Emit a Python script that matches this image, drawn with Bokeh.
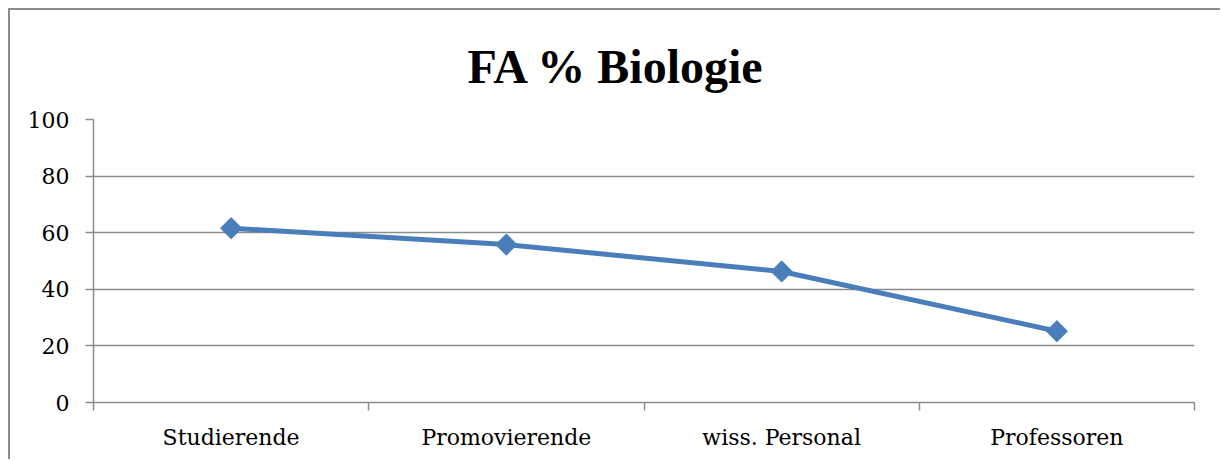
from bokeh.plotting import figure
from bokeh.models import Range1d, FixedTicker, ColumnDataSource
from bokeh.embed import file_html
from bokeh.resources import INLINE

categories = ["Studierende", "Promovierende", "wiss. Personal", "Professoren"]
values = [61.6, 55.8, 46.3, 25.2]
y_ticks = [0, 20, 40, 60, 80, 100]
title_text = "FA % Biologie"

FONT = "DejaVu Serif"
TITLE_FONT = "Liberation Serif"
GRAY = "#8c8c8c"
BLUE = "#4a7ebb"

n = len(categories)
centers = [i + 0.5 for i in range(n)]
src = ColumnDataSource(dict(x=centers, val=values, cat=categories))

p = figure(width=1212, height=451, output_backend="svg", toolbar_location=None,
           x_range=Range1d(0, n), y_range=Range1d(0, 100),
           min_border_left=83, min_border_right=28, min_border_top=109, min_border_bottom=59,
           title=title_text)
p.styles = {"margin-left": "8px", "margin-top": "8px",
            "border-left": f"2px solid {GRAY}", "border-top": f"2px solid {GRAY}"}
p.outline_line_color = None
p.background_fill_color = "white"
p.border_fill_color = "white"

p.title.text_font = TITLE_FONT
p.title.text_font_size = "48px"
p.title.text_font_style = "bold"
p.title.text_color = "black"
p.title.align = "left"
p.title.offset = 374
p.title.standoff = 53

p.xgrid.grid_line_color = None
p.ygrid.grid_line_color = GRAY
p.ygrid.grid_line_width = 1.5
p.ygrid.ticker = FixedTicker(ticks=y_ticks)

ya = p.yaxis[0]
ya.ticker = FixedTicker(ticks=y_ticks)
ya.axis_line_color = GRAY
ya.axis_line_width = 1.5
ya.major_tick_line_color = GRAY
ya.major_tick_line_width = 1.5
ya.major_tick_out = 8
ya.major_tick_in = 0
ya.minor_tick_line_color = None
ya.major_label_standoff = 16
ya.major_label_text_font = FONT
ya.major_label_text_font_size = "22px"
ya.major_label_text_color = "black"

xa = p.xaxis[0]
xa.ticker = FixedTicker(ticks=centers, minor_ticks=list(range(n + 1)))
xa.major_label_overrides = {c: lab for c, lab in zip(centers, categories)}
xa.axis_line_color = GRAY
xa.axis_line_width = 1.5
xa.major_tick_line_color = None
xa.major_tick_out = 8
xa.major_tick_in = 0
xa.minor_tick_line_color = GRAY
xa.minor_tick_line_width = 1.5
xa.minor_tick_out = 8
xa.minor_tick_in = 0
xa.major_label_standoff = 14
xa.major_label_text_font = FONT
xa.major_label_text_font_size = "22px"
xa.major_label_text_color = "black"

p.line("x", "val", source=src, line_color=BLUE, line_width=5)
p.scatter("x", "val", source=src, marker="square", angle=0.785398, size=15,
          fill_color=BLUE, line_color=BLUE)

open("out.html", "w").write(file_html(p, INLINE))
